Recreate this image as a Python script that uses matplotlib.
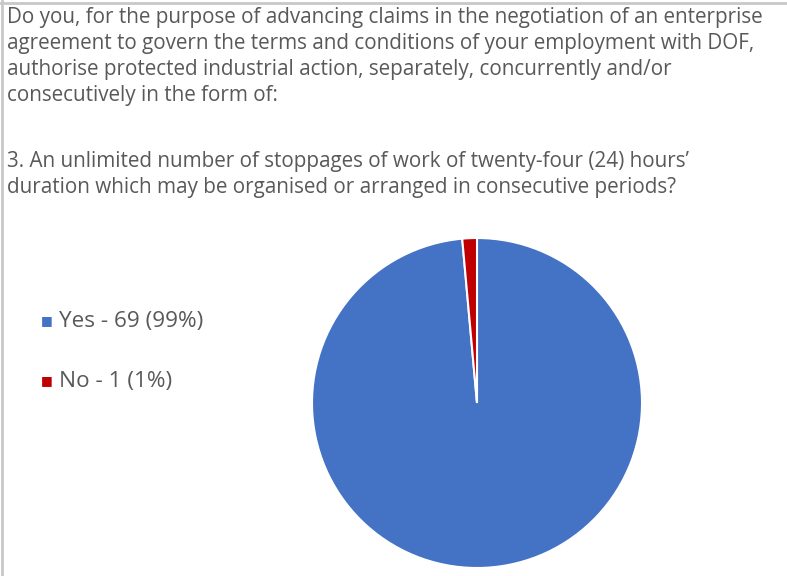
import matplotlib.pyplot as plt
from matplotlib.lines import Line2D

W, H = 787, 576

question_lines = [
    "Do you, for the purpose of advancing claims in the negotiation of an enterprise",
    "agreement to govern the terms and conditions of your employment with DOF,",
    "authorise protected industrial action, separately, concurrently and/or",
    "consecutively in the form of:",
]
item_lines = [
    "3. An unlimited number of stoppages of work of twenty-four (24) hours\u2019",
    "duration which may be organised or arranged in consecutive periods?",
]
labels = ["Yes", "No"]
counts = [69, 1]
percents = [99, 1]
colors = ["#4472C4", "#C00000"]

plt.rcParams['font.family'] = ['Open Sans', 'DejaVu Sans']
text_color = "#595959"

fig = plt.figure(figsize=(W / 100, H / 100), dpi=100)

# border lines (top and left)
fig.add_artist(Line2D([0, 1], [1 - 3 / H, 1 - 3 / H], color="#c8c8c8", lw=2))
fig.add_artist(Line2D([1.5 / W, 1.5 / W], [0, 1], color="#c8c8c8", lw=2))

# question text
y = 18
for line in question_lines:
    fig.text(7 / W, 1 - y / H, line, fontsize=14.85, color=text_color, va="center")
    y += 26
y = 161
for line in item_lines:
    fig.text(7 / W, 1 - y / H, line, fontsize=14.85, color=text_color, va="center")
    y += 26

# pie
ax = fig.add_axes([312 / W, 1 - 568 / H, 330 / W, 330 / H])
ax.pie(counts, colors=colors, startangle=90, counterclock=False,
       wedgeprops=dict(edgecolor="white", linewidth=1.5))
ax.set_xlim(-1, 1)
ax.set_ylim(-1, 1)
ax.set_aspect("equal")

# legend
for i, (lab, c, p) in enumerate(zip(labels, counts, percents)):
    yy = 321 + i * 60
    fig.text(41 / W, 1 - yy / H, "\u25A0", fontsize=9, color=colors[i], va="center")
    fig.text(59 / W, 1 - yy / H, f"{lab} - {c} ({p}%)", fontsize=16.2,
             color=text_color, va="center")

fig.savefig("out.png", dpi=100)
